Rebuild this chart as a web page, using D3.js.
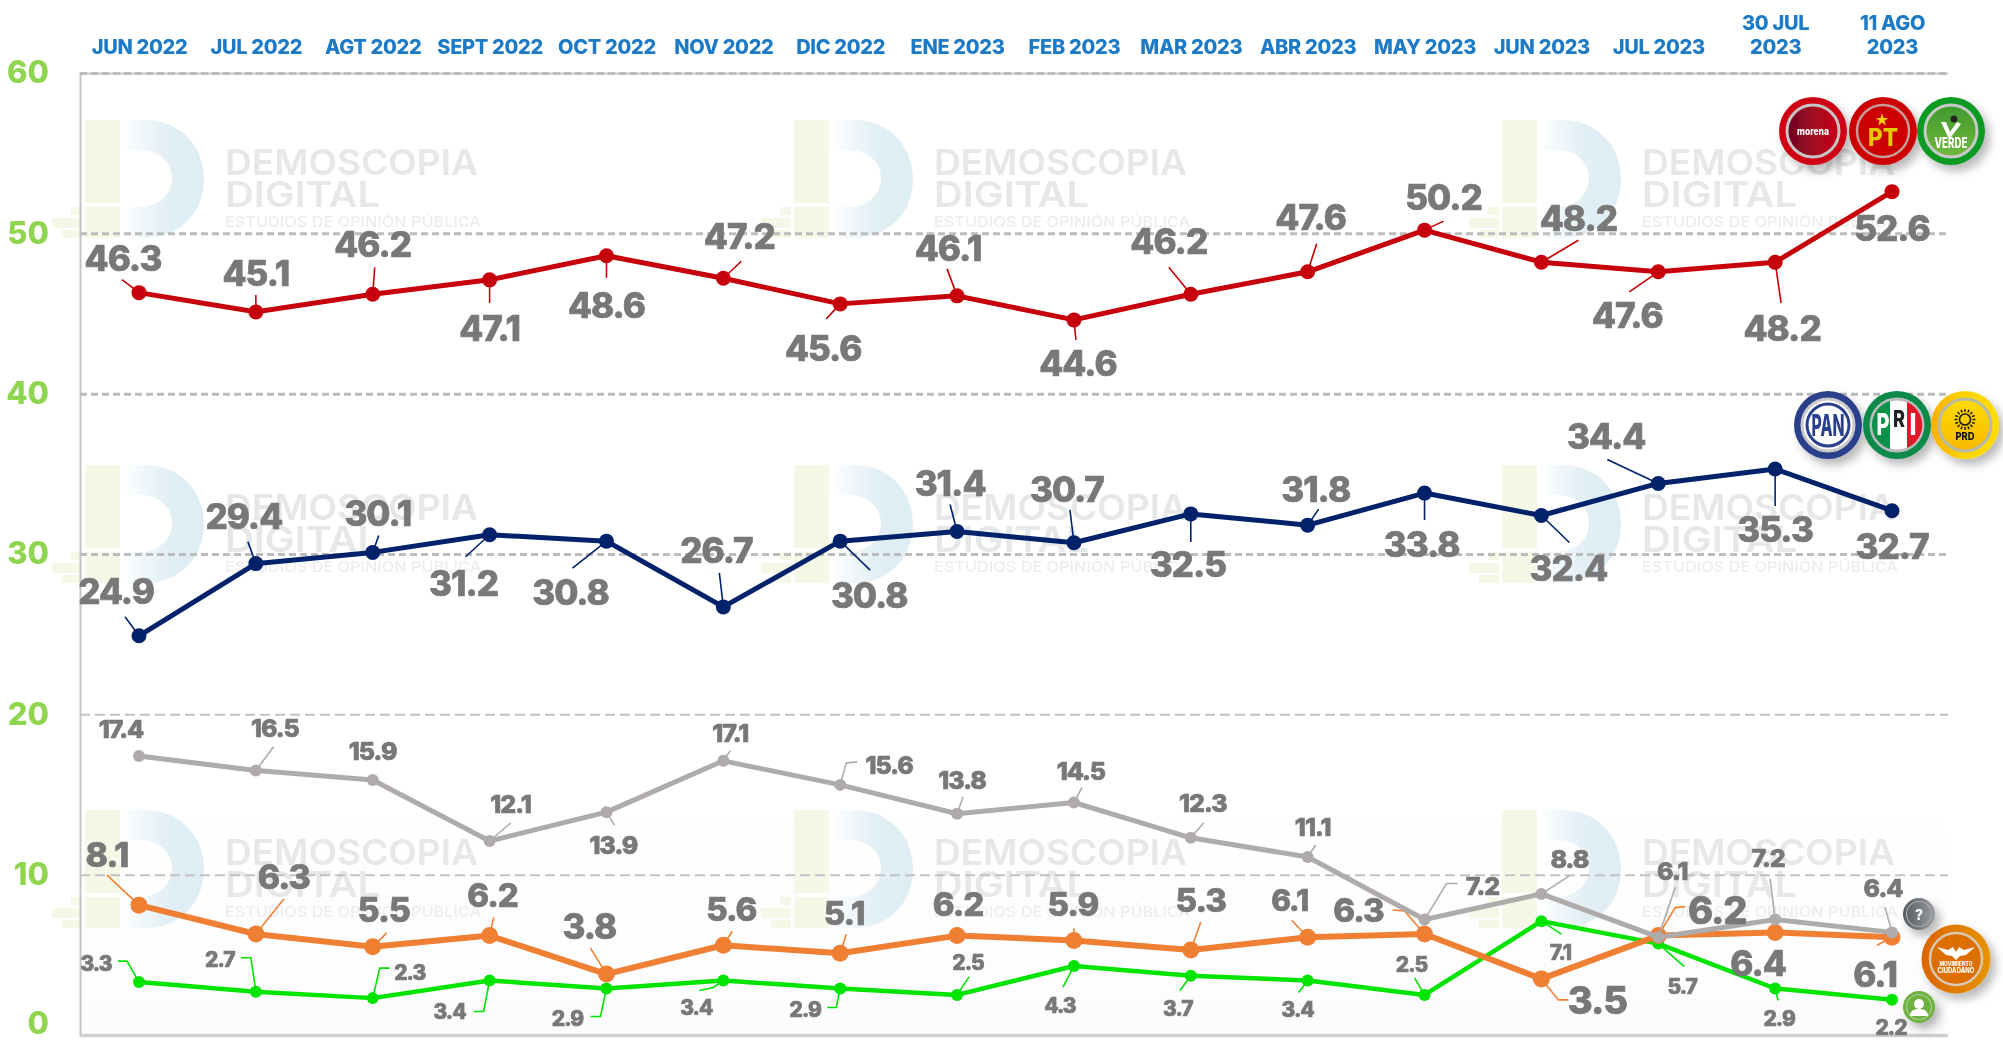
<!DOCTYPE html>
<html lang="es">
<head>
<meta charset="utf-8">
<script src="https://cdn.jsdelivr.net/npm/d3@7"></script>
<style>
html,body{margin:0;padding:0;background:#fff;overflow:hidden}
svg{display:block}
text{font-family:Inter,"Open Sans",sans-serif}
</style>
</head>
<body>
<svg id="chart" width="2003" height="1042"></svg>
<script>
// ---- data ----
const periods = ["JUN 2022","JUL 2022","AGT 2022","SEPT 2022","OCT 2022","NOV 2022","DIC 2022","ENE 2023","FEB 2023","MAR 2023","ABR 2023","MAY 2023","JUN 2023","JUL 2023","30 JUL|2023","11 AGO|2023"];
const yTicks = [0,10,20,30,40,50,60];
const morenaValues  = [46.3,45.1,46.2,47.1,48.6,47.2,45.6,46.1,44.6,46.2,47.6,50.2,48.2,47.6,48.2,52.6];
const panValues     = [24.9,29.4,30.1,31.2,30.8,26.7,30.8,31.4,30.7,32.5,31.8,33.8,32.4,34.4,35.3,32.7];
const unknownValues = [17.4,16.5,15.9,12.1,13.9,17.1,15.6,13.8,14.5,12.3,11.1,7.2,8.8,6.1,7.2,6.4];
const mcValues      = [8.1,6.3,5.5,6.2,3.8,5.6,5.1,6.2,5.9,5.3,6.1,6.3,3.5,6.2,6.4,6.1];
const indepValues   = [3.3,2.7,2.3,3.4,2.9,3.4,2.9,2.5,4.3,3.7,3.4,2.5,7.1,5.7,2.9,2.2];

// ---- label layout (pixel offset from the point, separate from the data) ----
const morenaLabelPos = [[-16,-35],[0,-39],[0,-50],[0,48],[0,49],[16,-42],[-17,44],[-9,-48],[4,43],[-22,-53],[3,-55],[19,-33],[37,-44],[-31,43],[7,66],[0,36]];
const morenaLeaders = [[[-17,-13]],[[0,-17]],[[2,-27]],[[0,23]],[[0,22]],[[18,-17]],[[-14,15]],[[-10,-27]],[[2,20]],[[-22,-27]],[[9,-28]],[[19,-9]],[[37,-22]],[[-29,20]],[[6,41]],[]];
const panLabelPos = [[-23,-45],[-12,-48],[5,-39],[-26,48],[-36,51],[-7,-57],[29,54],[-7,-49],[-7,-54],[-3,50],[8,-36],[-3,51],[27,52],[-52,-47],[0,60],[0,35]];
const panLeaders = [[[-14,-19]],[[-8,-22]],[[6,-17]],[[-24,22]],[[-34,27]],[[-4,-34]],[[30,29]],[[-7,-27]],[[-4,-33]],[[0,28]],[[11,-16]],[[0,27]],[[28,27]],[[-51,-24]],[[0,37]],[]];
const unknownLabelPos = [[-18,-27],[19,-42],[0,-29],[21,-37],[7,33],[7,-28],[49,-20],[5,-34],[7,-32],[12,-35],[5,-30],[58,-34],[28,-35],[14,-66],[-7,-62],[-9,-44]];
const unknownLeaders = [[],[[18,-24]],[],[[21,-18]],[[8,13]],[[7,-10]],[[6,-22],[17,-23]],[[6,-17]],[[8,-15]],[[13,-15]],[[8,-12]],[[22,-36],[33,-36]],[[28,-18]],[[17,-50]],[[-5,-41]],[[-7,-25]]];
const mcLabelPos = [[-32,-51],[28,-57],[11,-37],[3,-41],[-17,-48],[8,-36],[4,-40],[1,-32],[-1,-36],[10,-50],[-18,-37],[-66,-24],[56,21],[59,-26],[-17,31],[-17,37]];
const mcLeaders = [[[-32,-30]],[[28,-35]],[[14,-14]],[[4,-18]],[[-16,-26]],[[9,-14]],[[6,-19]],[],[[0,-12]],[[10,-28]],[[-16,-17]],[[-20,-23],[-32,-24]],[[17,21],[27,21]],[[17,-28],[27,-29]],[],[[-15,8]]];
const indepLabelPos = [[-43,-19],[-36,-32],[37,-26],[-40,31],[-39,30],[-27,27],[-35,21],[11,-32],[-14,39],[-13,33],[-10,29],[-13,-30],[19,31],[24,43],[4,30],[-1,28]];
const indepLeaders = [[[-12,-21],[-21,-21]],[[-5,-34],[-15,-34]],[[7,-30],[17,-30]],[[-6,31],[-16,31]],[[-6,28],[-16,28]],[[-10,7],[-24,10]],[[-4,19],[-13,19]],[[12,-18]],[[-11,21]],[[-11,15]],[[-9,12]],[[-10,-17]],[[20,13]],[[26,23]],[[3,12]],[]];
const mcLabelSizes = [34,34,34,33,35,33,33,33,33,33,30,33,38,38,35,35];

const seriesList = [
  {name:"Morena-PT-Verde", values:morenaValues, color:"#c70007", width:5, r:7.5, labelPos:morenaLabelPos, leaders:morenaLeaders, size:35},
  {name:"PAN-PRI-PRD", values:panValues, color:"#03226a", width:5, r:7.5, labelPos:panLabelPos, leaders:panLeaders, size:35},
  {name:"Independiente", values:indepValues, color:"#00e400", width:4.5, r:6, labelPos:indepLabelPos, leaders:indepLeaders, size:21},
  {name:"Movimiento Ciudadano", values:mcValues, color:"#ef7f33", width:6, r:8.5, labelPos:mcLabelPos, leaders:mcLeaders, size:mcLabelSizes},
  {name:"No sabe", values:unknownValues, color:"#afabab", width:5, r:6, labelPos:unknownLabelPos, leaders:unknownLeaders, size:25}
];
const watermarkCols = [85,794,1502];
const watermarkRows = [120,465,810];

// ---- chart ----
const svg = d3.select("#chart");
const plotLeft = 80, plotRight = 1948;
const x = d3.scalePoint().domain(periods).range([139,1892]);
const y = d3.scaleLinear().domain([0,60]).range([1035,73]);

const defs = svg.append("defs");
const soft = defs.append("filter").attr("id","soft").attr("x","-5%").attr("y","-5%").attr("width","110%").attr("height","110%");
soft.append("feGaussianBlur").attr("stdDeviation",0.55);
const shadow = defs.append("filter").attr("id","shadow").attr("x","-40%").attr("y","-40%").attr("width","190%").attr("height","190%");
shadow.append("feDropShadow").attr("dx",5).attr("dy",6).attr("stdDeviation",5).attr("flood-color","#000").attr("flood-opacity",0.28);
const textShadow = defs.append("filter").attr("id","textShadow").attr("x","-20%").attr("y","-20%").attr("width","140%").attr("height","140%");
textShadow.append("feGaussianBlur").attr("in","SourceGraphic").attr("stdDeviation",0.7).attr("result","b");
function lin(id,stops,x1=0,x2=1,y1=0,y2=0){
  const g = defs.append("linearGradient").attr("id",id).attr("x1",x1).attr("x2",x2).attr("y1",y1).attr("y2",y2);
  stops.forEach(s=>g.append("stop").attr("offset",s[0]).attr("stop-color",s[1]));
}
lin("dGrad",[[0,"#ffffff"],[0.55,"#e2eff5"],[1,"#deedf4"]]);
lin("bgGrad",[[0,"#ffffff"],[1,"#fcfcfe"]],0,0,0,1);
lin("morenaGrad",[[0,"#6d0424"],[0.55,"#a80a20"],[1,"#c8001a"]]);
lin("verdeGrad",[[0,"#3f9a2e"],[1,"#72b83c"]],0,0,0,1);
lin("prdGrad",[[0,"#ffdc00"],[1,"#f9b800"]],0,0,0,1);
lin("prdRing",[[0,"#f9b000"],[0.5,"#ffd500"],[1,"#ffdc00"]]);
lin("mcGrad",[[0,"#d96400"],[1,"#e89400"]]);
lin("qGrad",[[0,"#555a60"],[1,"#9a9da2"]]);

svg.append("rect").attr("x",plotLeft).attr("y",800).attr("width",plotRight-plotLeft).attr("height",233).attr("fill","url(#bgGrad)");

// watermarks
const wm = defs.append("g").attr("id","wm");
wm.append("path").attr("fill","#f6f8e7").attr("d","M0,0H35V83H0ZM0,87H35V118H0ZM-14,87H-3V95H-14ZM-33,98H-3V108H-33ZM-23,110H-3V118H-23Z");
wm.append("path").attr("fill","url(#dGrad)").attr("fill-rule","evenodd")
  .attr("d","M35,0H60C95,0 119,26 119,59C119,92 95,118 60,118H35ZM35,30V87H55C75,87 87,73 87,58C87,43 75,30 55,30Z");
[["DEMOSCOPIA",140,55,36,253],["DIGITAL",140,87,36,155]].forEach(d=>{
  wm.append("text").attr("x",d[1]).attr("y",d[2]).text(d[0]).attr("font-size",d[3]).attr("font-weight",600)
    .attr("fill","#e6e7e8").attr("textLength",d[4]).attr("lengthAdjust","spacingAndGlyphs");
});
wm.append("text").attr("x",140).attr("y",107).text("ESTUDIOS DE OPINIÓN PÚBLICA").attr("font-size",15).attr("font-weight",500)
  .attr("fill","#ededee").attr("textLength",256).attr("lengthAdjust","spacingAndGlyphs");
const wmLayer = svg.append("g").attr("filter","url(#soft)");
watermarkRows.forEach(ry=>watermarkCols.forEach(cx=>{
  wmLayer.append("use").attr("href","#wm").attr("x",cx).attr("y",ry);
}));

const plot = svg.append("g").attr("filter","url(#soft)");

// y axis with gridlines
const yAxis = d3.axisLeft(y).tickValues(yTicks).tickSize(-(plotRight-plotLeft)).tickPadding(31);
const yG = plot.append("g").attr("transform",`translate(${plotLeft},0)`).call(yAxis);
yG.select(".domain").attr("stroke","#c4c4c4").attr("stroke-width",2);
yG.selectAll(".tick line").attr("stroke",d=>d>=30?"#bcbcbc":"#c2c2c2").attr("stroke-width",d=>d>=30?3:2).attr("stroke-dasharray",d=>d>=30?"7 4":"10 5");
yG.selectAll(".tick").filter(d=>d===0).select("line").attr("stroke","#cfcfcf").attr("stroke-width",3.5).attr("stroke-dasharray",null);
yG.selectAll(".tick text").attr("fill","#8fd550").attr("font-size",31).attr("font-weight",800).attr("font-family","Inter,sans-serif");
yG.selectAll(".tick").filter(d=>d===0).select("text").attr("y",-11);

// top axis
const xAxis = d3.axisTop(x).tickSize(0).tickPadding(0).tickFormat(()=>"");
const xG = plot.append("g").attr("transform","translate(0,41)").call(xAxis);
xG.select(".domain").remove();
xG.selectAll(".tick text").each(function(d){
  const parts = d.split("|"), t = d3.select(this);
  t.attr("fill","#1c7ac6").attr("font-size",20).attr("font-weight",800).attr("font-family","Inter,sans-serif").attr("letter-spacing",-0.3);
  t.selectAll("tspan").data(parts).join("tspan").attr("x",0)
    .attr("y",(p,i)=>parts.length===2?(i===0?-11:13):13).text(p=>p);
});

// leaders under lines
const line = d3.line().x((d,i)=>x(periods[i])).y(d=>y(d));
const fmt = d3.format(".1f");
seriesList.forEach(s=>{
  const g = plot.append("g").attr("class","series");
  s.leaders.forEach((pts,i)=>{
    if(!pts.length) return;
    const px = x(periods[i]), py = y(s.values[i]);
    const path = d3.path(); path.moveTo(px,py);
    pts.forEach(p=>path.lineTo(px+p[0],py+p[1]));
    g.append("path").attr("d",path.toString()).attr("fill","none").attr("stroke",s.color).attr("stroke-width",1.6);
  });
  g.append("path").datum(s.values).attr("d",line).attr("fill","none").attr("stroke",s.color)
    .attr("stroke-width",s.width).attr("stroke-linejoin","round");
  g.selectAll("circle").data(s.values).join("circle")
    .attr("cx",(d,i)=>x(periods[i])).attr("cy",d=>y(d)).attr("r",s.r).attr("fill",s.color);
});
// value labels on top
const labelLayer = svg.append("g").attr("filter","url(#textShadow)");
seriesList.forEach(s=>{
  s.values.forEach((v,i)=>{
    labelLayer.append("text")
      .attr("x",x(periods[i])+s.labelPos[i][0]).attr("y",y(v)+s.labelPos[i][1])
      .attr("text-anchor","middle").attr("dominant-baseline","central")
      .attr("fill","#787878").attr("stroke","#787878").attr("stroke-width",0.7).attr("font-weight",800).attr("letter-spacing",-1)
      .attr("font-size",Array.isArray(s.size)?s.size[i]:s.size).text(fmt(v));
  });
});

// party badges
const badges = svg.append("g");
function badge(cx,cy){
  return badges.append("g").attr("transform",`translate(${cx},${cy})`).attr("filter","url(#shadow)");
}
function txt(g,s,yy,size,fill,weight=800,len=null,xx=0){
  const t = g.append("text").attr("x",xx).attr("y",yy).attr("text-anchor","middle").attr("font-size",size).attr("fill",fill).attr("font-weight",weight).text(s);
  if(len) t.attr("textLength",len).attr("lengthAdjust","spacingAndGlyphs");
  return t;
}
const ring = (g,r,stroke="#c9c9c9",w=2.5,fill="none")=>g.append("circle").attr("r",r).attr("fill",fill).attr("stroke",stroke).attr("stroke-width",w);

let b = badge(1813,131); b.append("circle").attr("r",34).attr("fill","#cf0012"); ring(b,26,"#c8c4c4",3,"url(#morenaGrad)"); txt(b,"morena",4,10.5,"#fff",800,32);
b = badge(1883,131); b.append("circle").attr("r",34).attr("fill","#cc0000"); ring(b,26,"#c89a9a",2.5,"#cc0000");
b.append("path").attr("fill","#ffd200").attr("d",d3.symbol().type(d3.symbolStar).size(50)()).attr("transform","translate(-1,-11)"); txt(b,"PT",15,24,"#e4c900",800,30);
b = badge(1951,131); b.append("circle").attr("r",34).attr("fill","#0a9a22"); ring(b,26,"#c9c9c9",3,"url(#verdeGrad)");
b.append("path").attr("fill","#fff").attr("d","M-10,-9L-5,-9L-1,1L6,-9L10,-7L0,6L-3,6Z"); b.append("circle").attr("cx",3).attr("cy",-12).attr("r",3.5).attr("fill","#222"); txt(b,"VERDE",17,14,"#fff",800,33);
b = badge(1828,425); b.append("circle").attr("r",34).attr("fill","#2a3f8c"); ring(b,26,"#c9c9c9",3,"#fff"); ring(b,21,"#2a3f8c",3,"#fff"); txt(b,"PAN",11,30,"#2a3f8c",800,33);
b = badge(1897,425); b.append("circle").attr("r",34).attr("fill","#0a8a48"); ring(b,26,"#bbb",3,"#fff");
b.append("path").attr("fill","#0a9148").attr("d","M-7,-24A25,25 0 0 0 -7,24Z"); b.append("path").attr("fill","#e2142b").attr("d","M10,-23A25,25 0 0 1 10,23Z");
txt(b,"P",10,30,"#fff",800,13,-14); txt(b,"R",2,23,"#222",800,12,2); txt(b,"I",10,30,"#fff",800,7,16);
b = badge(1965,425); b.append("circle").attr("r",34).attr("fill","url(#prdRing)"); ring(b,26,"#b9b9a8",3,"url(#prdGrad)");
d3.range(16).forEach(i=>b.append("line").attr("x1",0).attr("y1",-7.5).attr("x2",0).attr("y2",-10.5).attr("stroke","#1a1a1a").attr("stroke-width",1.5).attr("transform",`translate(0,-5.5) rotate(${i*22.5})`));
ring(b,5.5,"#1a1a1a",1.6,"none").attr("cy",-5.5); txt(b,"PRD",15,10,"#111",800,19);
b = badge(1919,914); b.append("circle").attr("r",16).attr("fill","url(#qGrad)"); ring(b,12.5,"#aaa",1.2); txt(b,"?",5.5,14,"#fff",800);
b = badge(1956,959); b.append("circle").attr("r",34.5).attr("fill","url(#mcGrad)"); ring(b,26,"#d8c8b0",2.5,"#dd6e00");
b.append("path").attr("fill","#fff").attr("d","M-19,-12L-8,-9L-3,-12L0,-7L3,-12L8,-9L19,-12L10,-4L4,-3L0,1L-4,-3L-10,-4Z");
txt(b,"MOVIMIENTO",7,5.5,"#fff",800,33); txt(b,"CIUDADANO",14,7.5,"#fff",800,37);
b = badge(1919,1007); b.append("circle").attr("r",16).attr("fill","#6eb043"); ring(b,12.5,"#a8cf8c",1.2,"#6eb043");
b.append("circle").attr("cy",-3).attr("r",5).attr("fill","#fff"); b.append("path").attr("fill","#fff").attr("d","M-9,9C-9,3 -4,2 0,2C4,2 9,3 9,9Z");
</script>
</body>
</html>
